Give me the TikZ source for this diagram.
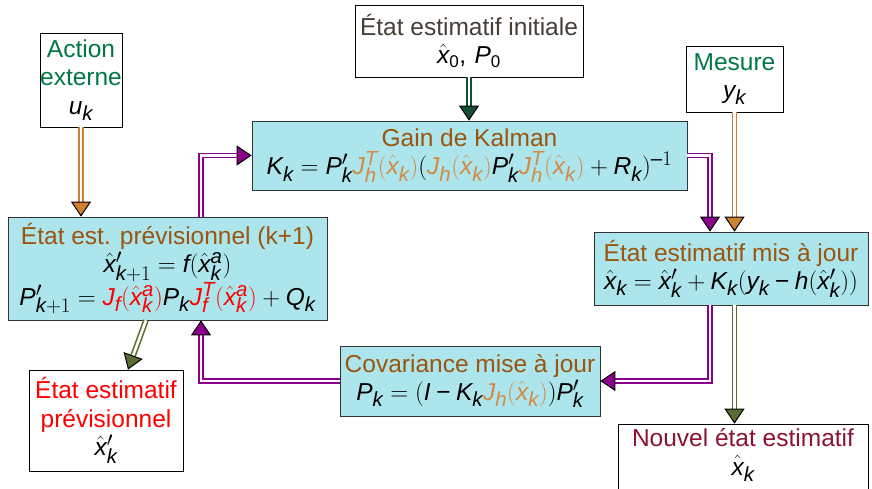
\documentclass[tikz,border=0pt]{standalone}
\usepackage{fontspec}
\setmainfont{Liberation Sans}
\usepackage[italic]{mathastext}
\usetikzlibrary{arrows.meta}
\definecolor{kcyan}{RGB}{172,229,235}
\definecolor{kbrown}{RGB}{155,85,15}
\definecolor{korange}{RGB}{212,138,68}
\definecolor{karrow}{RGB}{205,127,50}
\definecolor{kpurple}{RGB}{140,0,140}
\definecolor{kdgreen}{RGB}{20,80,50}
\definecolor{kolive}{RGB}{90,110,50}
\definecolor{kgreen}{RGB}{0,120,70}
\definecolor{kgray}{RGB}{70,62,55}
\definecolor{kmaroon}{RGB}{140,20,50}
\definecolor{kred}{RGB}{255,0,0}
\newcommand\zsub{\mbox{\fontsize{17}{17}\selectfont 0}}
\newcommand\kminus{\mathbin{\mbox{−}}}
\begin{document}
\begin{tikzpicture}[x=1pt,y=-1pt,
  every node/.style={font=\fontsize{24.5}{28.5}\selectfont},
  box/.style={draw=black, line width=0.7pt, fill=white, align=center, inner sep=0pt},
  cbox/.style={box, fill=kcyan, draw=black!80},
  dbl/.style={draw=#1, double=white, double distance=2.6pt, line width=1.6pt, line join=miter,
    -{Triangle[length=15pt,width=20pt,color=black,fill=#1,line width=1pt]}}]
\useasboundingbox (0,0) rectangle (872,489);
% boxes
\node[box, minimum width=74, minimum height=94] (act) at (81,80)
  {\textcolor{kgreen}{Action}\\ \textcolor{kgreen}{externe}\\ $u_k$};
\node[box, minimum width=228, minimum height=72] (init) at (469,41)
  {\textcolor{kgray}{État estimatif initiale}\\ $\hat{x}_{\zsub},\, P_{\zsub}$};
\node[box, minimum width=97, minimum height=66] (mes) at (734.5,79)
  {\textcolor{kgreen}{Mesure}\\ $y_k$};
\node[cbox, minimum width=435, minimum height=69] (gain) at (469.5,155.5)
  {\textcolor{kbrown}{Gain de Kalman}\\
   $K_k = P'_k\textcolor{korange}{J_h^T(\hat{x}_k)}(\textcolor{korange}{J_h(\hat{x}_k)}P'_k\textcolor{korange}{J_h^T(\hat{x}_k)} + R_k)^{-1}$};
\node[cbox, minimum width=319, minimum height=103] (prev) at (167.5,268.5)
  {\textcolor{kbrown}{État est. prévisionnel (k+1)}\\
   $\hat{x}'_{k+1} = f(\hat{x}^a_k)$\\
   $P'_{k+1} = \textcolor{kred}{J_f(\hat{x}^a_k)}P_k\textcolor{kred}{J_f^T(\hat{x}^a_k)} + Q_k$};
\node[cbox, minimum width=274, minimum height=73] (maj) at (731,268.5)
  {\textcolor{kbrown}{État estimatif mis à jour}\\
   $\hat{x}_k = \hat{x}'_k + K_k(y_k \kminus h(\hat{x}'_k))$};
\node[cbox, minimum width=260, minimum height=70] (cov) at (470,381)
  {\textcolor{kbrown}{Covariance mise à jour}\\
   $P_k = (I \kminus K_k\textcolor{korange}{J_h(\hat{x}_k)})P'_k$};
\node[box, minimum width=154, minimum height=101] (rouge) at (106,420.5)
  {\textcolor{kred}{État estimatif}\\ \textcolor{kred}{prévisionnel}\\ $\hat{x}'_k$};
\node[box, minimum width=250, minimum height=80] (nouv) at (743,464) {};
\node[align=center, inner sep=0pt] (nouvt) at (743,455)
  {\textcolor{kmaroon}{Nouvel état estimatif}\\ $\hat{x}_k$};
% helper coordinates
\coordinate (xl) at (710,0);
\coordinate (xp) at (201,0);
% connectors
\draw[dbl=karrow] (act.south) -- (act.south |- prev.north);
\draw[dbl=kdgreen] (init.south) -- (init.south |- gain.north);
\draw[dbl=karrow] (mes.south) -- (mes.south |- maj.north);
\draw[dbl=kpurple] (gain.east) -| (xl |- maj.north);
\draw[dbl=kpurple] (xl |- maj.south) |- (cov.east);
\draw[dbl=kolive] (mes.south |- maj.south) -- (mes.south |- nouv.north);
\draw[dbl=kpurple] (cov.west) -| (xp |- prev.south);
\draw[dbl=kpurple] (xp |- prev.north) |- (gain.west);
\draw[dbl=kolive] ([xshift=-21.5pt]prev.south) -- ([xshift=22pt]rouge.north);
\end{tikzpicture}
\end{document}
